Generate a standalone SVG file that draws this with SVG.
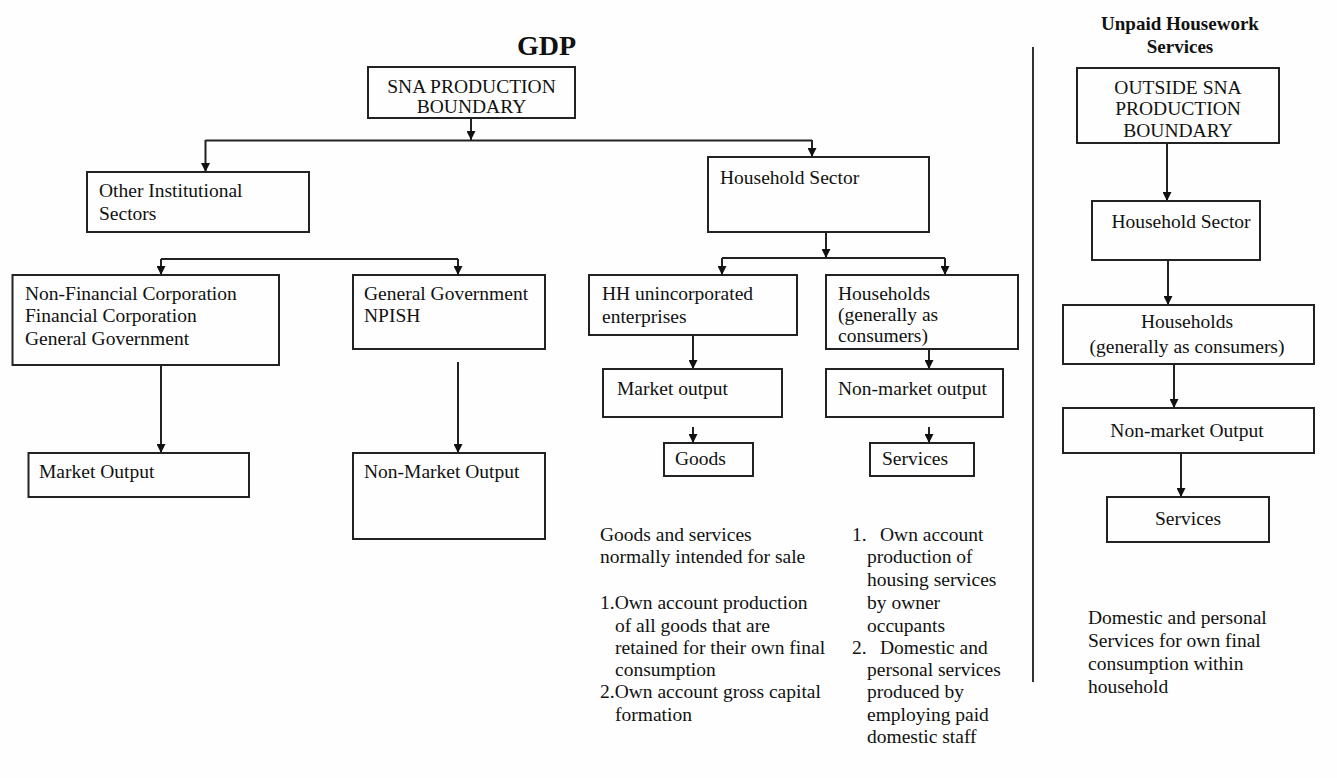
<svg xmlns="http://www.w3.org/2000/svg" width="1337" height="778" viewBox="0 0 1337 778">
<defs>
<marker id="ah" viewBox="0 0 10 10" refX="10" refY="5" markerWidth="9" markerHeight="9" markerUnits="userSpaceOnUse" orient="auto">
<path d="M0,0 L10,5 L0,10 z" fill="#111"/>
</marker>
<style>
.box{fill:none;stroke:#222;stroke-width:2}
.t{font-family:"Liberation Serif","Times New Roman",serif;font-size:19.5px;fill:#111}
.c{text-anchor:middle}
.h{font-family:"Liberation Serif","Times New Roman",serif;font-weight:bold;fill:#111}
.ln{fill:none;stroke:#222;stroke-width:2}
.ar{fill:none;stroke:#222;stroke-width:2;marker-end:url(#ah)}
</style>
</defs>
<rect width="1337" height="778" fill="#fdfefd"/>

<text class="h" x="517" y="55" font-size="28">GDP</text>
<text class="h c" x="1180" y="30" font-size="19">Unpaid Housework</text>
<text class="h c" x="1180" y="53" font-size="19">Services</text>
<line x1="1033" y1="47" x2="1033" y2="682" stroke="#333" stroke-width="2"/>

<g id="connectors">
<path class="ar" d="M471,118 V140"/>
<path class="ln" d="M205.5,140.5 H812"/>
<path class="ar" d="M205.5,140 V172"/>
<path class="ar" d="M812,140 V157"/>
<path class="ar" d="M826,232 V258"/>
<path class="ln" d="M722,258 H945"/>
<path class="ar" d="M722,258 V275"/>
<path class="ar" d="M945,258 V275"/>
<path class="ln" d="M161,259 H458"/>
<path class="ar" d="M161,259 V275"/>
<path class="ar" d="M458,259 V275"/>
<path class="ar" d="M161,365 V453"/>
<path class="ar" d="M458,362 V453"/>
<path class="ar" d="M693,335 V369"/>
<path class="ar" d="M929,349 V369"/>
<path class="ar" d="M693,427 V443"/>
<path class="ar" d="M929,427 V443"/>
<path class="ar" d="M1167,143 V201"/>
<path class="ar" d="M1168,260 V305"/>
<path class="ar" d="M1174,364 V408"/>
<path class="ar" d="M1181,453 V497"/>
</g>

<g id="sna">
<rect class="box" x="368" y="67" width="207" height="51"/>
<text class="t c" x="471.5" y="93">SNA PRODUCTION</text>
<text class="t c" x="471.5" y="113">BOUNDARY</text>
</g>
<g id="other-inst">
<rect class="box" x="87" y="172" width="222" height="60"/>
<text class="t" x="99" y="197">Other Institutional</text>
<text class="t" x="99" y="220">Sectors</text>
</g>
<g id="household-sector">
<rect class="box" x="708" y="157" width="221" height="75"/>
<text class="t" x="720" y="184">Household Sector</text>
</g>
<g id="nonfin">
<rect class="box" x="12.5" y="275" width="266.5" height="90"/>
<text class="t" x="25" y="300">Non-Financial Corporation</text>
<text class="t" x="25" y="322">Financial Corporation</text>
<text class="t" x="25" y="345">General Government</text>
</g>
<g id="gengov">
<rect class="box" x="353" y="275" width="192" height="74"/>
<text class="t" x="364" y="300">General Government</text>
<text class="t" x="364" y="322">NPISH</text>
</g>
<g id="market-output">
<rect class="box" x="28.5" y="453" width="220.5" height="44"/>
<text class="t" x="39" y="478">Market Output</text>
</g>
<g id="nonmarket-output">
<rect class="box" x="353" y="453" width="192" height="86"/>
<text class="t" x="364" y="478">Non-Market Output</text>
</g>
<g id="hh-unincorp">
<rect class="box" x="589" y="275" width="208" height="60"/>
<text class="t" x="602" y="300">HH unincorporated</text>
<text class="t" x="602" y="323">enterprises</text>
</g>
<g id="households">
<rect class="box" x="826" y="275" width="192" height="74"/>
<text class="t" x="838" y="300">Households</text>
<text class="t" x="838" y="321">(generally as</text>
<text class="t" x="838" y="342">consumers)</text>
</g>
<g id="hh-market-output">
<rect class="box" x="603" y="369" width="179" height="48"/>
<text class="t" x="617" y="395">Market output</text>
</g>
<g id="hh-nonmarket-output">
<rect class="box" x="826" y="369" width="177" height="48"/>
<text class="t" x="838" y="395">Non-market output</text>
</g>
<g id="goods">
<rect class="box" x="664" y="443" width="89" height="33"/>
<text class="t" x="675" y="465">Goods</text>
</g>
<g id="services">
<rect class="box" x="870" y="443" width="104" height="33"/>
<text class="t" x="882" y="465">Services</text>
</g>
<g id="goods-note">
<text class="t" x="600" y="541">Goods and services</text>
<text class="t" x="600" y="563">normally intended for sale</text>
<text class="t" x="600" y="609">1.Own account production</text>
<text class="t" x="615" y="632">of all goods that are</text>
<text class="t" x="615" y="654">retained for their own final</text>
<text class="t" x="615" y="676">consumption</text>
<text class="t" x="600" y="698">2.Own account gross capital</text>
<text class="t" x="615" y="721">formation</text>
</g>
<g id="services-note">
<text class="t" x="852" y="541">1.</text>
<text class="t" x="880" y="541">Own account</text>
<text class="t" x="867" y="563">production of</text>
<text class="t" x="867" y="586">housing services</text>
<text class="t" x="867" y="609">by owner</text>
<text class="t" x="867" y="632">occupants</text>
<text class="t" x="852" y="654">2.</text>
<text class="t" x="880" y="654">Domestic and</text>
<text class="t" x="867" y="676">personal services</text>
<text class="t" x="867" y="698">produced by</text>
<text class="t" x="867" y="721">employing paid</text>
<text class="t" x="867" y="743">domestic staff</text>
</g>
<g id="outside-sna">
<rect class="box" x="1077" y="68" width="202" height="75"/>
<text class="t c" x="1178" y="94">OUTSIDE SNA</text>
<text class="t c" x="1178" y="115">PRODUCTION</text>
<text class="t c" x="1178" y="137">BOUNDARY</text>
</g>
<g id="uh-household-sector">
<rect class="box" x="1092" y="201" width="168" height="59"/>
<text class="t c" x="1181" y="228">Household Sector</text>
</g>
<g id="uh-households">
<rect class="box" x="1063" y="305" width="251" height="59"/>
<text class="t c" x="1187" y="328">Households</text>
<text class="t c" x="1187" y="353">(generally as consumers)</text>
</g>
<g id="uh-nonmarket">
<rect class="box" x="1063" y="408" width="251" height="45"/>
<text class="t c" x="1187" y="437">Non-market Output</text>
</g>
<g id="uh-services">
<rect class="box" x="1107" y="497" width="162" height="45"/>
<text class="t c" x="1188" y="525">Services</text>
</g>
<g id="uh-note">
<text class="t" x="1088" y="624">Domestic and personal</text>
<text class="t" x="1088" y="647">Services for own final</text>
<text class="t" x="1088" y="670">consumption within</text>
<text class="t" x="1088" y="693">household</text>
</g>
</svg>
